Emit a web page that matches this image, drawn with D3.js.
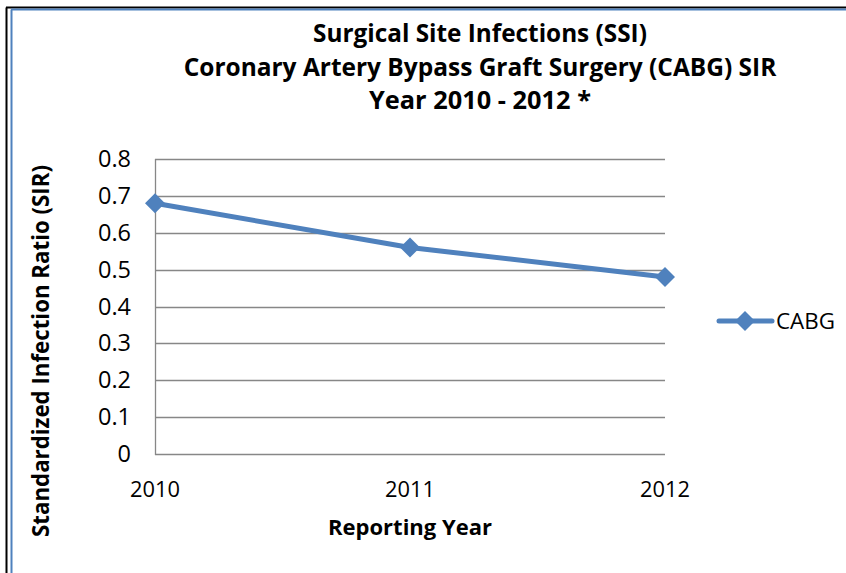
<!DOCTYPE html>
<html><head><meta charset="utf-8">
<script src="https://cdn.jsdelivr.net/npm/d3@7"></script>
<style>body{margin:0;background:#fff}svg{display:block}text{font-family:"Open Sans",Lato,sans-serif}</style>
</head><body><svg id="c" width="846" height="573"></svg>
<script>
const years = ["2010", "2011", "2012"];
const sirValues = [0.68, 0.56, 0.48];
const yTicks = [0, 0.1, 0.2, 0.3, 0.4, 0.5, 0.6, 0.7, 0.8];
const titleLines = ["Surgical Site Infections (SSI)", "Coronary Artery Bypass Graft Surgery (CABG) SIR", "Year 2010 - 2012 *"];
const titleWidths = [334, 593, 222];
const seriesName = "CABG";

const svg = d3.select("#c");
const color = "#4F81BD", grid = "#878787";

// fit font size so text spans a target width
function fit(sel, w) {
  sel.each(function(){
    const n = this; const fs = +n.getAttribute("font-size");
    const len = n.getComputedTextLength();
    if (len > 0) n.setAttribute("font-size", (fs * w / len).toFixed(2));
  });
  return sel;
}

// frame
svg.append("line").attr("x1",6.5).attr("y1",7.5).attr("x2",6.5).attr("y2",573).attr("stroke","#000").attr("stroke-width",2);
svg.append("line").attr("x1",6).attr("y1",7.5).attr("x2",846).attr("y2",7.5).attr("stroke","#000").attr("stroke-width",2);
svg.append("line").attr("x1",11.5).attr("y1",9.5).attr("x2",11.5).attr("y2",573).attr("stroke",color).attr("stroke-width",2);
svg.append("line").attr("x1",11).attr("y1",9.5).attr("x2",846).attr("y2",9.5).attr("stroke",color).attr("stroke-width",2);

const x = d3.scalePoint().domain(years).range([155, 665]);
const y = d3.scaleLinear().domain([0, 0.8]).range([454, 159]);

// gridlines
svg.append("g").selectAll("line").data(yTicks).join("line")
  .attr("x1",155).attr("x2",665).attr("y1",d=>Math.round(y(d))+0.5).attr("y2",d=>Math.round(y(d))+0.5)
  .attr("stroke",grid).attr("stroke-width",1.3);
svg.append("line").attr("x1",155.5).attr("x2",155.5).attr("y1",159).attr("y2",455).attr("stroke",grid).attr("stroke-width",1.3);

// y tick labels
const yl = svg.append("g").selectAll("text").data(yTicks).join("text")
  .attr("x",131).attr("y",d=>y(d)+8).attr("text-anchor","end").attr("font-size",20).attr("fill","#000")
  .text(d=>d===0?"0":d.toFixed(1));
fit(yl.filter(d=>d!==0), 33);
yl.filter(d=>d===0).attr("font-size", yl.filter(d=>d===0.8).attr("font-size"));
// x tick labels
fit(svg.append("g").selectAll("text").data(years).join("text")
  .attr("x",d=>x(d)).attr("y",497).attr("text-anchor","middle").attr("font-size",20).attr("fill","#000").text(d=>d), 50);

// titles
svg.append("g").selectAll("text").data(titleLines).join("text")
  .attr("x",480).attr("y",(d,i)=>[42,76,109][i]).attr("text-anchor","middle").attr("font-size",22).attr("font-weight","bold").attr("fill","#000").text(d=>d)
  .each(function(d,i){ fit(d3.select(this), titleWidths[i]); });
fit(svg.append("text").attr("x",410).attr("y",535).attr("text-anchor","middle").attr("font-size",20).attr("font-weight","bold").text("Reporting Year"), 164);
fit(svg.append("text").attr("transform","translate(49,351) rotate(-90)").attr("text-anchor","middle").attr("font-size",20).attr("font-weight","bold").text("Standardized Infection Ratio (SIR)"), 372);

// line
const data = years.map((yr,i)=>({yr, v: sirValues[i]}));
svg.append("path").datum(data).attr("fill","none").attr("stroke",color).attr("stroke-width",5).attr("stroke-linejoin","round")
  .attr("d", d3.line().x(d=>x(d.yr)).y(d=>y(d.v)));
svg.append("g").selectAll("path").data(data).join("path")
  .attr("d", d3.symbol().type(d3.symbolSquare).size(200)).attr("transform",d=>`translate(${x(d.yr)},${y(d.v)}) rotate(45)`)
  .attr("fill",color);

// legend
svg.append("line").attr("x1",719).attr("x2",772).attr("y1",321).attr("y2",321).attr("stroke",color).attr("stroke-width",5).attr("stroke-linecap","round");
svg.append("path").attr("d", d3.symbol().type(d3.symbolSquare).size(200)).attr("transform","translate(745,321) rotate(45)").attr("fill",color);
fit(svg.append("text").attr("x",776).attr("y",329).attr("font-size",20).text(seriesName), 59);
</script></body></html>
